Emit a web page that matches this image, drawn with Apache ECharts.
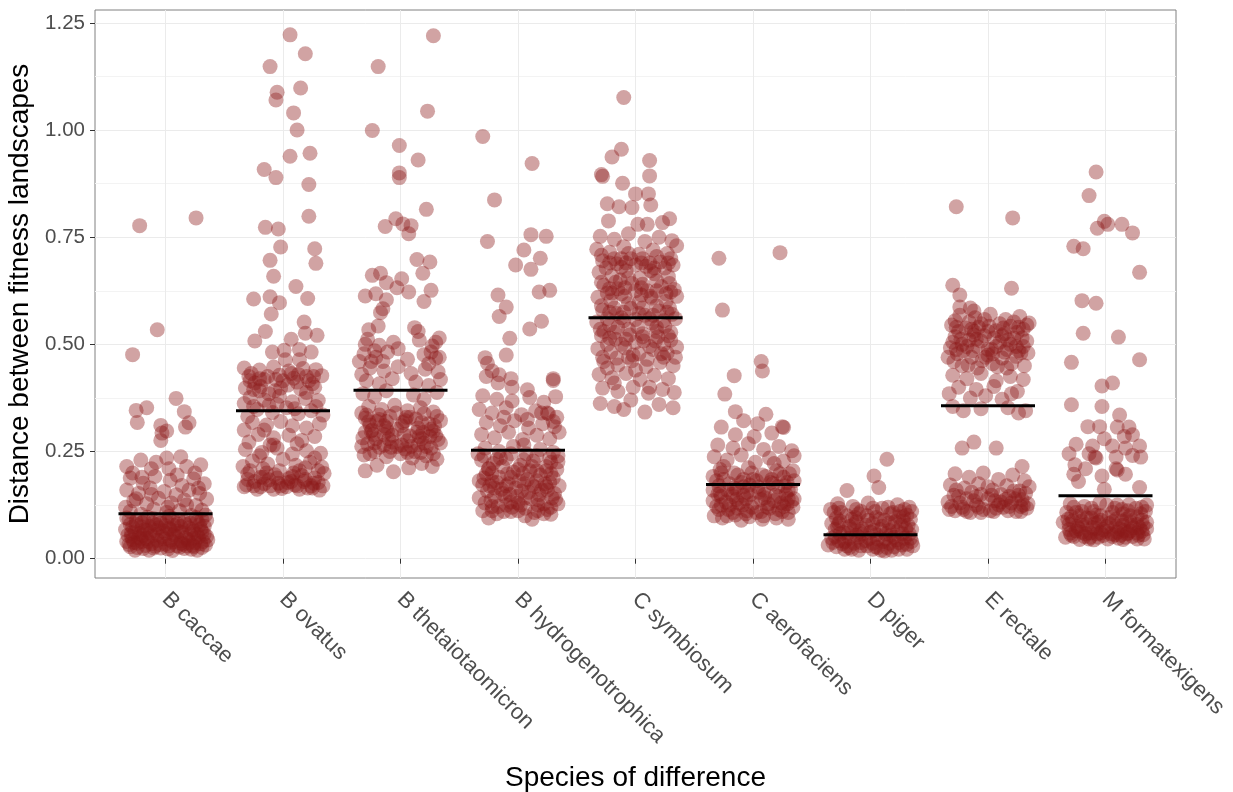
<!DOCTYPE html>
<html>
<head>
<meta charset="utf-8">
<script src="https://cdn.jsdelivr.net/npm/echarts@6.0.0/dist/echarts.min.js"></script>
<style>
  html, body { margin: 0; padding: 0; background: #fff; }
  #chart { width: 1233px; height: 792px; }
</style>
</head>
<body>
<div id="chart"></div>
<script>
// categories and axis ticks
const species = ['B caccae', 'B ovatus', 'B thetaiotaomicron', 'B hydrogenotrophica', 'C symbiosum',
  'C aerofaciens', 'D piger', 'E rectale', 'M formatexigens'];
const yTicks = [0, 0.25, 0.5, 0.75, 1, 1.25];
const yMinorTicks = [0.125, 0.375, 0.625, 0.875, 1.125];

// group means (black bars)
const means = [0.105, 0.345, 0.393, 0.253, 0.562, 0.173, 0.056, 0.357, 0.147];

// points per species: [jitter offset in 1/100 category, distance in 1/1000]
const bCaccae = [
  [-22,777],[26,795],[-7,534],[-28,476],[9,374],[-16,352],[-25,346],[16,343],[-24,318],[20,317],[-4,311],[1,298],[17,307],[-4,276],[-3,293],
  [-21,230],[-28,200],[1,235],[13,238],[30,219],[18,215],[-12,210],[3,210],[25,200],[-33,215],[-8,225],
  [-30,188],[-19,176],[-9,192],[4,183],[14,171],[24,186],[33,175],
  [-33,160],[-23,152],[-13,165],[-1,157],[9,149],[20,160],[29,152],[35,139],
  [-27,135],[-16,128],[-6,141],[5,130],[16,137],[26,124],[-34,120],
  [-30,110],[-21,104],[-10,116],[1,108],[12,112],[22,101],[31,113],
  [-33,95],[-25,88],[-15,97],[-5,90],[6,94],[16,86],[26,96],[35,89],
  [-30,80],[-20,74],[-11,83],[0,77],[10,81],[20,72],[29,79],[-2,65],
  [-34,68],[-26,62],[-16,66],[-7,57],[4,68],[14,61],[24,64],[33,58],
  [-29,52],[-21,47],[-11,53],[-1,46],[9,52],[19,45],[28,50],[36,44],
  [-33,40],[-24,36],[-15,41],[-5,33],[6,39],[15,34],[25,38],[34,32],
  [-30,28],[-19,24],[-9,29],[2,23],[12,27],[22,22],[31,26],[-26,20],
  [-12,35],[8,60],[-22,58],[18,30],[30,70],[-6,72],[24,48],[-18,88],[3,99],[13,42],[-28,45],[34,102],
  [-31,92],[-20,84],[-10,93],[1,86],[11,90],[21,83],[31,92],
  [-28,74],[-18,67],[-8,79],[3,71],[13,75],[23,68],[33,76],
  [-32,55],[-23,50],[-13,60],[-3,52],[7,56],[17,49],[27,57],[35,52],
  [-27,38],[-17,31],[-7,43],[3,30],[13,36],[23,31],[32,40],
  [-24,26],[-14,20],[-4,25],[6,19],[16,24],[27,20],
  [-25,140],[-12,150],[2,120],[18,125],[28,165],[-20,190],[10,195],
  [-29,60],[-19,55],[-9,66],[1,58],[11,64],[21,56],[31,63],[-25,80],[-14,75],[-4,83],[7,78],[17,80],[27,86],
  [-31,33],[-20,40],[-10,25],[0,34],[10,30],[20,38],[30,35],[-16,47],[4,44],[24,28]
];
const bOvatus = [
  [6,1222],[19,1178],[-11,1148],[15,1098],[-5,1088],[-6,1070],[9,1040],[12,1000],[6,939],[23,946],
  [-16,908],[-6,889],[22,873],[22,799],[-15,773],[-4,769],[-2,727],[27,723],[28,689],[-11,696],
  [-8,659],[11,635],[-25,606],[-11,611],[21,607],[-3,597],[-10,571],[18,552],[-15,530],[-24,508],
  [19,526],[29,521],[7,512],[-9,482],[1,486],[14,488],[24,482],[2,464],[14,464],
  [-33,445],[-20,440],[-8,447],[5,438],[17,444],[28,441],
  [-29,425],[-16,418],[-3,428],[9,421],[22,415],[33,427],[-24,410],
  [-32,398],[-19,402],[-7,392],[4,405],[15,396],[27,400],[-12,385],
  [-28,376],[-16,370],[-3,379],[8,366],[19,374],[30,369],[-33,362],
  [-22,348],[-9,341],[3,352],[13,338],[24,345],[34,335],[-30,332],
  [-26,318],[-14,312],[-2,320],[20,305],[31,315],[-33,300],
  [-21,290],[-8,282],[5,288],[16,276],[27,285],[-29,272],
  [-32,255],[-18,248],[-5,258],[8,244],[20,252],[32,246],[-11,265],
  [-26,228],[-13,221],[0,232],[11,218],[23,225],[33,214],[-34,215],
  [-30,198],[-19,190],[-7,196],[5,187],[16,194],[27,188],[35,199],[-24,180],
  [-33,168],[-22,162],[-11,170],[-1,164],[10,172],[21,165],[31,160],[-16,175],[4,178],[26,176],
  [-25,395],[12,412],[-5,360],[26,425],[-14,200],[14,205],[-4,176],[24,170],[-30,185],[8,192],
  [-27,432],[-13,425],[0,415],[13,430],[25,408],[-20,392],[-2,398],[20,388],[-25,355],[-12,358],[10,350],[28,355],
  [-28,205],[-17,210],[-3,205],[9,200],[19,212],[30,205],[-31,172],[-19,168],[-8,162],[3,168],[14,162],[25,165],[34,170],[-12,184],[18,180],
  [-16,300],[8,310],[-8,265],[12,268],[-20,240],[27,235],
  [-20,420],[-6,418],[7,432],[20,425],[-28,415],[-17,190],[-5,188],[7,180],[19,185],[30,178],[-25,170],[-2,170],[12,170]
];
const bTheta = [
  [28,1220],[-19,1148],[23,1044],[-24,999],[-1,964],[15,930],[-1,900],[-1,889],[22,815],[-4,793],
  [-13,775],[2,781],[9,777],[7,758],[14,698],[25,692],[19,666],[-24,661],[-17,666],[-12,644],
  [1,653],[-3,632],[7,622],[26,626],[-30,613],[-21,618],[-12,604],[20,600],[-15,583],[-17,574],
  [-27,534],[-19,543],[12,539],[15,530],
  [-28,512],[-18,498],[-6,505],[16,510],[27,496],[33,515],
  [-31,478],[-21,470],[-11,482],[6,465],[20,476],[30,468],[-15,460],
  [-26,445],[-14,438],[-2,448],[9,432],[21,442],[32,436],[-33,430],
  [-29,415],[-18,408],[-7,420],[13,412],[24,404],[34,418],
  [-32,385],[-22,378],[11,382],[20,372],[31,388],[-12,392],
  [-27,355],[-16,348],[-5,358],[6,345],[17,352],[28,342],[-33,340],
  [-30,328],[-20,320],[-9,332],[2,318],[13,326],[24,315],[34,322],[-14,310],
  [-25,298],[-14,290],[-3,302],[8,286],[19,295],[30,288],[-32,282],
  [-28,268],[-18,260],[-7,272],[4,256],[15,266],[26,258],[34,270],[-22,250],
  [-31,242],[-12,238],[0,245],[10,235],[22,240],[31,232],
  [-30,205],[-6,203],[7,212],[-20,218],[18,222],[27,215],
  [-24,300],[-10,280],[5,330],[15,305],[-3,262],[25,285],[-18,335],[12,250],[-35,460],[33,470],[-2,490],
  [-29,335],[-18,325],[-4,340],[8,330],[20,338],[31,332],
  [-26,312],[-12,305],[1,310],[14,295],[26,302],[-30,295],
  [-21,280],[-7,288],[6,275],[18,280],[32,278],[-33,262],[-14,265],[1,265],[22,262],
  [-26,245],[-9,250],[6,248],[17,248],[28,245],
  [-30,500],[-22,485],[26,482],[30,505],[-25,460],[24,455],
  [-23,290],[-11,298],[3,290],[16,285],[28,298],[-22,270],[-8,260],[9,262],[20,270],
  [-27,320],[-12,320],[4,322],[18,318],[29,310]
];
const bHydro = [
  [-30,985],[12,922],[-20,837],[-26,740],[11,756],[24,752],[5,720],[19,701],[-2,685],[11,675],
  [-17,615],[18,622],[27,626],[-10,587],[-16,565],[20,554],[10,536],[-7,514],[-10,475],[-28,469],
  [-26,456],[30,420],[30,416],[-22,438],[-16,429],[-27,425],[-6,420],[-5,400],[-17,410],[8,394],
  [-30,380],[-18,372],[-5,368],[10,376],[22,365],[32,378],
  [-33,348],[-22,340],[-10,352],[3,336],[15,345],[26,338],[33,330],
  [-27,318],[-15,310],[-3,322],[9,305],[21,315],[31,308],
  [-31,290],[-20,282],[-8,295],[4,278],[16,288],[27,280],[35,295],
  [-28,258],[-16,250],[-4,262],[7,245],[19,255],[30,248],[-34,245],
  [-31,230],[-21,222],[-10,234],[2,218],[13,228],[24,215],[34,226],
  [-27,198],[-16,190],[-4,202],[8,185],[19,195],[30,188],[-33,182],
  [-30,172],[-20,165],[-8,175],[3,158],[14,168],[25,160],[35,170],[-13,152],
  [-33,142],[-23,135],[-11,145],[0,130],[11,140],[22,128],[32,138],[-5,120],
  [-30,112],[-18,105],[-6,110],[6,100],[17,112],[28,104],[-25,95],[12,92],
  [-15,235],[10,205],[-22,180],[23,175],[-1,145],[18,150],[-10,125],[28,225],[5,265],[-25,210],[30,320],[20,340],
  [-29,240],[-18,232],[-6,245],[5,230],[16,240],[27,235],[34,240],
  [-25,210],[-13,215],[0,208],[12,215],[24,205],[33,208],
  [-29,188],[-18,178],[-6,190],[5,175],[16,182],[27,178],
  [-26,158],[-14,162],[-2,165],[9,155],[20,160],[31,152],
  [-28,130],[-17,122],[-6,132],[6,118],[17,125],[28,120],[34,128],
  [-22,112],[0,112],[22,105],[25,340],[-12,330],[8,325],
  [-22,200],[-9,198],[4,198],[16,205],[28,198],[-24,170],[-10,170],[1,182],[12,172],[24,168],
  [-20,145],[-7,150],[6,142],[17,138],[29,142],[-22,122],[-12,110],[2,125],[14,108],[25,115]
];
const cSymb = [
  [-10,1076],[-12,955],[-20,937],[12,929],[-29,896],[-28,892],[12,893],[-11,876],[0,851],[11,851],
  [-24,828],[-14,821],[-3,819],[13,825],[-23,788],[2,780],[10,780],[23,784],[29,793],
  [-30,752],[-18,745],[-6,758],[8,740],[20,750],[31,742],
  [-33,722],[-22,715],[-10,728],[3,710],[15,720],[27,712],[35,730],
  [-28,695],[-16,688],[-4,700],[9,682],[21,692],[32,685],
  [-31,668],[-20,660],[-8,672],[4,655],[16,665],[28,658],[-13,650],
  [-27,638],[-15,630],[-3,642],[10,625],[22,635],[33,628],
  [-32,610],[-21,602],[-9,612],[3,598],[14,608],[26,600],[35,612],
  [-28,580],[-16,572],[-4,584],[8,568],[20,578],[31,570],
  [-33,552],[-22,545],[-10,555],[2,540],[14,550],[25,542],[-27,530],
  [-29,520],[-17,512],[-5,522],[7,508],[19,518],[30,510],
  [-32,490],[-21,482],[-9,492],[3,478],[15,488],[27,480],[35,494],
  [-27,460],[-15,452],[-3,462],[9,448],[21,458],[32,450],
  [-31,430],[-20,422],[-8,432],[4,418],[16,428],[28,420],
  [-28,398],[-15,390],[-2,400],[11,386],[23,395],[33,388],
  [-30,362],[-18,355],[-4,370],[8,342],[20,360],[32,352],[-10,348],
  [-12,700],[12,690],[-20,620],[5,615],[-15,540],[18,530],[-6,470],[24,470],[-24,445],[0,440],[12,400],[-18,410],
  [-29,708],[-18,700],[-6,712],[6,700],[18,705],[30,700],
  [-25,678],[-12,680],[0,685],[13,672],[25,678],
  [-29,645],[-17,645],[-6,655],[6,640],[18,648],[29,642],
  [-24,620],[-12,618],[0,625],[13,612],[26,618],
  [-29,590],[-18,585],[-6,595],[6,585],[18,590],[29,585],
  [-24,560],[-12,562],[0,558],[12,560],[24,555],[34,560],
  [-30,535],[-18,528],[-6,535],[6,525],[18,540],[30,528],
  [-24,500],[-12,500],[0,505],[12,495],[24,500],
  [-28,470],[-16,468],[-2,475],[10,465],[22,478],[34,470],
  [-22,690],[-8,690],[5,690],[16,678],[28,690],[-22,630],[-9,632],[5,632],[18,625],[30,622],
  [-22,575],[-10,575],[3,572],[15,568],[27,575],[-22,515],[-8,512],[6,518],[17,508],[28,520]
];
const cAero = [
  [-29,701],[23,714],[-26,580],[7,460],[8,438],[-16,427],[-24,384],[-15,343],[-8,322],[11,337],
  [25,308],[26,306],[-27,307],[4,315],[16,293],[-15,289],[1,285],
  [-30,265],[-17,258],[-4,268],[9,255],[22,262],[33,252],
  [-33,238],[-22,230],[-10,242],[2,225],[14,235],[26,228],[35,240],
  [-28,208],[-16,200],[-4,212],[8,195],[20,205],[31,198],[-34,192],
  [-31,182],[-20,175],[-8,185],[4,168],[15,178],[27,170],[35,182],[-14,162],
  [-28,152],[-17,145],[-5,155],[7,138],[19,148],[30,140],[-34,135],[24,130],
  [-31,122],[-21,115],[-9,125],[3,108],[14,118],[25,110],[34,120],[-15,102],[-3,98],
  [-26,95],[-10,90],[8,92],[20,95],[30,92],[-33,100],
  [-22,160],[10,150],[-12,130],[30,160],[0,185],[-25,215],[18,222],[-6,140],[12,120],[-20,125],[26,190],[-1,120],
  [-27,200],[-13,195],[-1,200],[11,192],[23,198],[34,205],
  [-29,170],[-16,165],[-3,172],[9,160],[21,168],[32,162],
  [-27,145],[-14,138],[-2,150],[10,142],[22,145],[33,135],
  [-29,115],[-17,108],[-5,112],[7,110],[19,105],[30,108],
  [-23,132],[-8,168],[16,185],[28,150],[-34,160],[35,140],
  [-25,185],[-10,178],[3,182],[17,175],[29,178],[-27,125],[-13,118],[0,130],[13,128],[26,122],
  [-22,100],[-6,105],[9,100],[22,115],[-30,150],[-8,148],[5,155],[18,135],[-18,150],[29,128]
];
const dPiger = [
  [14,232],[3,193],[7,166],[-20,159],
  [-28,128],[-15,122],[-2,130],[10,118],[23,126],[33,120],[-34,115],
  [-31,108],[-20,100],[-8,110],[5,96],[17,105],[28,98],[35,110],
  [-26,88],[-14,80],[-2,90],[10,76],[21,86],[32,78],[-33,82],
  [-30,68],[-19,60],[-7,70],[5,56],[16,66],[27,58],[35,68],[-12,55],
  [-33,48],[-22,40],[-10,50],[2,36],[13,46],[24,38],[34,48],[-4,42],
  [-29,28],[-16,22],[-3,30],[9,20],[20,28],[31,22],[-24,35],
  [-18,75],[8,92],[-26,58],[20,50],[0,62],[28,88],[-8,30],[14,26],[-36,32],[36,30],[-13,96],[25,110],
  [-27,118],[-12,115],[2,118],[15,120],[29,115],
  [-29,95],[-16,92],[-3,100],[12,90],[24,98],[34,92],
  [-28,75],[-16,68],[-4,78],[8,68],[19,74],[30,70],
  [-30,52],[-18,48],[-7,58],[6,46],[17,55],[29,48],
  [-32,38],[-20,30],[-8,38],[4,28],[16,36],[27,32],[35,40],
  [-22,22],[-10,20],[2,22],[12,18],[24,22],
  [-25,108],[-10,105],[4,110],[19,108],[31,102],[-27,82],[-12,86],[2,82],[16,84],[26,78],
  [-23,62],[-9,64],[3,66],[13,58],[23,64],[33,58],[-27,42],[-14,36],[-1,48],[11,40],[22,44],[31,34],
  [-18,26],[6,26],[18,20]
];
const eRectale = [
  [-27,821],[21,795],[-30,638],[20,631],[-24,615],[-24,587],[-15,585],[-12,578],
  [-24,568],[-11,562],[2,570],[15,558],[27,565],
  [-31,545],[-19,538],[-6,548],[7,532],[19,542],[30,535],[35,550],
  [-28,518],[-16,510],[-3,520],[10,505],[22,515],[33,508],
  [-32,492],[-21,485],[-9,495],[4,478],[16,488],[28,480],[-2,470],
  [-29,460],[-17,452],[-5,462],[8,448],[20,455],[31,450],[-34,470],
  [-12,530],[12,520],[-22,500],[24,495],[0,488],[-8,540],
  [-30,428],[-18,420],[-6,432],[7,415],[19,425],[30,418],[-25,400],[-10,395],[5,402],[25,390],
  [-33,385],[-15,375],[-2,380],[12,372],[20,385],[-30,355],[-21,345],[17,352],[26,340],[32,345],[-6,350],
  [-22,258],[-12,272],[7,258],[29,215],
  [-28,198],[-16,190],[-4,200],[9,185],[21,195],[31,182],
  [-32,172],[-20,165],[-8,175],[4,160],[16,170],[27,158],[35,168],
  [-29,148],[-18,140],[-6,150],[6,135],[18,145],[29,138],[-34,132],
  [-31,122],[-21,115],[-10,125],[2,112],[13,120],[24,110],[33,118],[-15,108],[-4,115],[9,126],[20,130],[28,122],
  [-28,555],[-16,552],[-3,558],[10,548],[22,552],[33,545],
  [-25,530],[-12,522],[0,530],[14,525],[25,528],
  [-30,505],[-18,495],[-6,508],[7,495],[19,500],[30,495],
  [-26,478],[-14,470],[0,475],[12,468],[24,472],[34,480],
  [-22,450],[-9,445],[4,455],[16,445],
  [-27,160],[-14,155],[0,168],[11,150],[22,158],[32,152],
  [-24,130],[-12,135],[0,140],[11,132],[23,140],[34,128],
  [-28,112],[-18,110],[-6,108],[5,110],[17,112],[28,110],[-33,115],
  [-27,540],[-14,535],[1,542],[13,538],[26,540],[-23,512],[-10,512],[5,515],[17,510],[29,515],
  [-27,488],[-13,485],[3,488],[14,482],[26,485],
  [-25,145],[-10,145],[3,148],[15,138],[26,148],[-22,120],[-8,120],[7,118],[18,122],[30,125]
];
const mForm = [
  [-8,902],[-14,847],[-1,787],[-7,771],[2,780],[14,780],[23,760],[-27,729],[-19,723],[29,668],
  [-20,602],[-8,596],[-19,526],[11,517],[-29,458],[29,464],[6,410],[-3,403],[-29,359],[-3,355],
  [12,335],[-15,308],[-5,308],[10,307],[20,307],[-1,280],[-25,267],[16,285],[23,289],[-11,263],
  [6,263],[17,258],[29,263],[-31,245],[-14,245],[-9,237],[-8,235],[9,237],[23,241],[30,237],
  [-26,219],[-17,210],[9,210],[10,207],[-27,197],[-3,193],[17,197],[-23,180],[-1,162],[29,166],
  [-30,128],[-18,122],[-5,130],[8,118],[20,126],[31,120],
  [-33,108],[-22,100],[-10,110],[3,96],[15,105],[27,98],[34,110],
  [-28,88],[-16,80],[-4,90],[9,76],[21,86],[32,78],
  [-31,68],[-20,62],[-8,70],[5,58],[16,66],[27,60],[35,70],
  [-27,52],[-14,46],[-2,54],[11,48],[23,52],[33,46],[-34,50],
  [-12,95],[14,88],[-24,75],[24,72],[0,64],[-6,50],[18,58],[-20,110],[10,125],[-36,85],
  [-27,120],[-12,118],[1,125],[14,115],[26,118],[35,125],
  [-29,98],[-16,95],[-4,100],[9,92],[21,100],[31,90],
  [-31,80],[-20,78],[-9,82],[3,82],[15,78],[27,80],[35,85],
  [-25,65],[-13,60],[-2,68],[10,62],[21,65],[31,64],
  [-29,55],[-18,52],[-7,58],[6,52],[17,50],[28,55],
  [-22,45],[-10,44],[2,46],[15,45],[27,46],
  [-25,108],[-8,102],[6,108],[19,112],[30,105],[-32,92],[-20,88],[-6,85],[6,86],[18,92],[29,72],
  [-23,70],[-11,72],[1,75],[12,70],[22,78],[-30,60],[-17,58],[-4,60],[8,56],[19,60],[32,56],[-13,50],[13,55]
];

const groups = [bCaccae, bOvatus, bTheta, bHydro, cSymb, cAero, dPiger, eRectale, mForm];
const points = [];
groups.forEach((g, i) => {
  g.forEach(p => points.push([i + 1 + p[0] / 100, p[1] / 1000]));
});

const fontFamily = '"Liberation Sans", Arial, sans-serif';
const chart = echarts.init(document.getElementById('chart'), null, { renderer: 'canvas' });

const option = {
  animation: false,
  textStyle: { fontFamily },
  grid: {
    left: 95, right: 57, top: 10, bottom: 214,
    outerBoundsMode: 'none',
    containLabel: false,
    show: true, borderColor: '#808080', borderWidth: 1, backgroundColor: '#fff'
  },
  xAxis: {
    type: 'value',
    min: 0.4,
    max: 9.6,
    name: 'Species of difference',
    nameLocation: 'middle',
    nameGap: 186,
    nameTextStyle: { fontSize: 28, color: '#000', fontFamily },
    axisLine: { show: false },
    axisTick: { show: true, length: 5, customValues: [1, 2, 3, 4, 5, 6, 7, 8, 9], lineStyle: { color: '#333' } },
    axisLabel: {
      customValues: [1, 2, 3, 4, 5, 6, 7, 8, 9],
      formatter: v => species[Math.round(v) - 1],
      rotate: -45,
      margin: 18,
      fontSize: 22,
      color: '#4d4d4d',
      fontFamily
    },
    splitLine: { show: true, lineStyle: { color: '#ebebeb', width: 1 } }
  },
  yAxis: [
    {
      type: 'value',
      min: -0.045,
      max: 1.28,
      name: 'Distance between fitness landscapes',
      nameLocation: 'middle',
      nameGap: 58,
      nameRotate: 90,
      nameTextStyle: { fontSize: 28, color: '#000', fontFamily },
      axisLine: { show: false },
      axisTick: { show: true, length: 5, customValues: yTicks, lineStyle: { color: '#333' } },
      axisLabel: {
        customValues: yTicks,
        formatter: v => v.toFixed(2),
        margin: 10,
        fontSize: 20.5,
        color: '#4d4d4d',
        fontFamily
      },
      splitLine: { show: true, lineStyle: { color: '#ebebeb', width: 1 } }
    },
    {
      type: 'value',
      min: -0.045,
      max: 1.28,
      position: 'right',
      axisLine: { show: false },
      axisTick: { show: false, customValues: yMinorTicks },
      axisLabel: { show: false, customValues: yMinorTicks },
      splitLine: { show: true, lineStyle: { color: '#f3f3f3', width: 1 } }
    }
  ],
  series: [
    {
      type: 'scatter',
      data: points,
      symbol: 'circle',
      symbolSize: 15,
      progressive: 0,
      large: false,
      silent: true,
      itemStyle: { color: '#8b1a1a', opacity: 0.4 }
    },
    {
      type: 'custom',
      data: means.map((m, i) => [i + 1, m]),
      z: 10,
      silent: true,
      renderItem: (params, api) => {
        const a = api.coord([api.value(0) - 0.4, api.value(1)]);
        const b = api.coord([api.value(0) + 0.4, api.value(1)]);
        return {
          type: 'line',
          shape: { x1: a[0], y1: a[1], x2: b[0], y2: b[1] },
          style: { stroke: '#000', lineWidth: 3 }
        };
      }
    }
  ]
};

chart.setOption(option);
</script>
</body>
</html>
